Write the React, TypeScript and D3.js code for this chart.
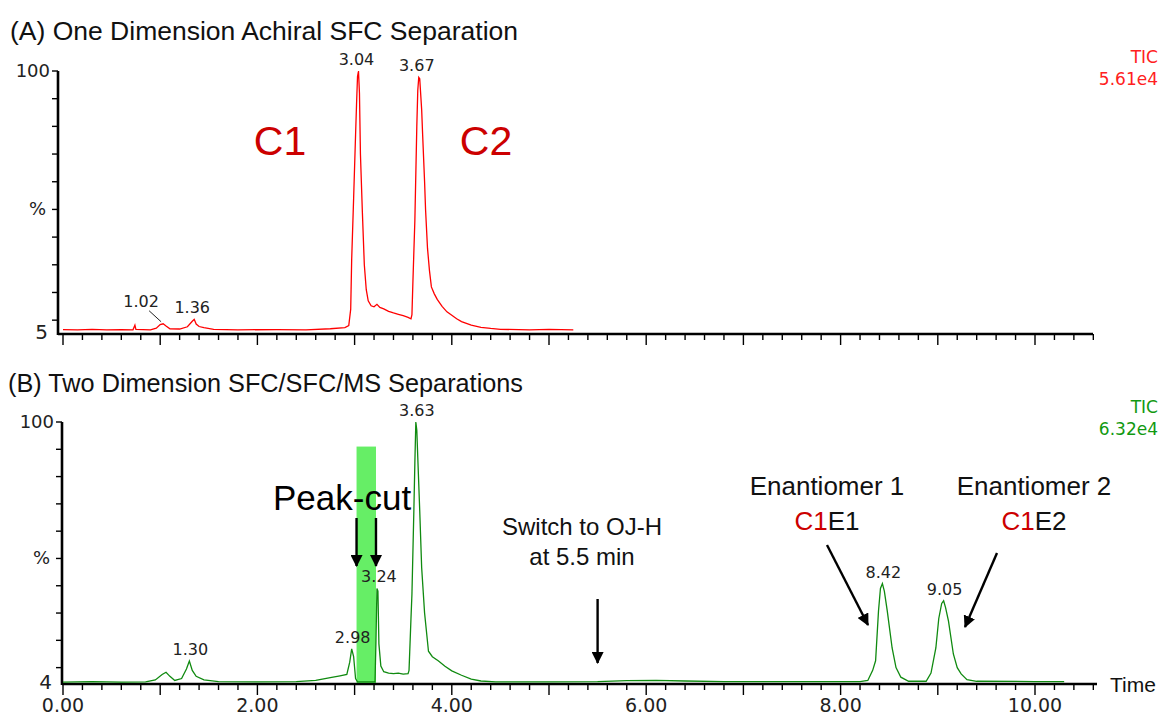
import React from "react";
import * as d3 from "d3";

// retention time (min), relative intensity (%)
const traceA: [number, number][] = [
  [0.0, 6.6], [0.15, 6.5], [0.3, 6.7], [0.45, 6.5], [0.6, 6.6], [0.72, 6.5], [0.74, 8.2], [0.75, 6.7],
  [0.9, 6.5], [0.96, 7.1], [1.0, 8.4], [1.03, 8.7], [1.06, 7.9], [1.1, 6.9], [1.2, 6.8], [1.28, 7.6],
  [1.33, 9.6], [1.35, 10.3], [1.37, 8.6], [1.4, 7.7], [1.45, 7.3], [1.55, 6.7], [1.8, 6.5], [2.2, 6.6],
  [2.5, 6.5], [2.75, 6.9], [2.9, 7.3], [2.94, 8.0], [2.96, 14], [2.97, 32], [2.99, 54], [3.01, 77],
  [3.02, 88], [3.03, 98], [3.04, 100], [3.05, 92], [3.06, 70], [3.08, 49], [3.1, 30], [3.12, 21],
  [3.14, 17], [3.17, 15.2], [3.2, 14.8], [3.23, 15.7], [3.26, 14.6], [3.3, 14.1], [3.35, 13.2],
  [3.4, 12.6], [3.45, 12.1], [3.5, 11.6], [3.55, 11.0], [3.58, 10.5], [3.59, 12], [3.6, 24], [3.62, 46],
  [3.64, 80], [3.65, 93], [3.66, 97.7], [3.67, 97.2], [3.69, 86], [3.7, 77], [3.72, 60], [3.73, 50],
  [3.75, 36], [3.77, 28], [3.79, 22], [3.82, 19.5], [3.85, 17.5], [3.9, 15], [3.95, 13], [4.0, 11.8],
  [4.05, 10.5], [4.1, 9.5], [4.2, 8.2], [4.3, 7.4], [4.4, 7.0], [4.5, 6.7], [4.8, 6.5], [5.0, 6.7],
  [5.25, 6.5],
];

const traceB: [number, number][] = [
  [0.0, 4.7], [0.3, 4.9], [0.6, 4.7], [0.85, 4.8], [0.95, 5.5], [1.02, 7.5], [1.06, 8.3], [1.1, 6.8],
  [1.15, 5.3], [1.22, 6.0], [1.27, 9.5], [1.3, 12.4], [1.33, 9.0], [1.37, 6.8], [1.45, 5.5], [1.6, 4.9],
  [2.0, 4.8], [2.4, 4.9], [2.6, 5.3], [2.75, 6.3], [2.85, 7.0], [2.92, 7.5], [2.95, 12], [2.97, 16.9],
  [2.99, 14], [3.01, 6], [3.03, 4.8], [3.21, 4.8], [3.22, 20], [3.23, 39], [3.24, 38], [3.25, 18.7],
  [3.27, 10.6], [3.3, 8.5], [3.35, 8.0], [3.4, 7.8], [3.45, 8.0], [3.5, 7.6], [3.55, 7.8], [3.56, 9],
  [3.58, 28], [3.59, 37], [3.61, 68], [3.62, 85], [3.63, 100], [3.64, 97], [3.65, 87], [3.67, 67.6],
  [3.69, 46.6], [3.72, 30], [3.76, 16], [3.8, 14], [3.86, 12.5], [3.93, 10.5], [4.0, 8.8], [4.1, 7.2],
  [4.2, 5.8], [4.3, 5.1], [4.45, 4.8], [5.0, 4.8], [5.5, 4.9], [5.8, 5.2], [6.1, 5.3], [6.4, 5.1],
  [6.8, 4.9], [7.5, 4.9], [8.2, 4.9], [8.28, 5.3], [8.33, 9], [8.36, 12.5], [8.39, 30.8], [8.41, 39],
  [8.43, 40.8], [8.45, 38], [8.48, 30.8], [8.53, 17.2], [8.57, 10], [8.62, 6.5], [8.7, 5.0], [8.88, 5.0],
  [8.93, 8], [8.98, 17.2], [9.01, 28], [9.04, 33.5], [9.06, 34.5], [9.08, 32], [9.11, 27], [9.16, 15],
  [9.2, 10], [9.24, 7.7], [9.3, 5.6], [9.4, 5.0], [10.0, 4.9], [10.3, 4.9],
];

// peak labels: text, time, intensity
const peaksA: [string, number, number][] = [
  ["1.36", 1.35, 10.3], ["3.04", 3.04, 100], ["3.67", 3.66, 97.7],
];
const peaksB: [string, number, number][] = [
  ["1.30", 1.3, 12.4], ["2.98", 2.97, 16.9], ["3.24", 3.24, 39], ["3.63", 3.63, 100],
  ["8.42", 8.43, 40.8], ["9.05", 9.06, 34.5],
];

const timeTicks = d3.range(0, 10.61, 0.2);
const timeLabels = [0, 2, 4, 6, 8, 10];
const pctTicks = d3.range(10, 101, 10);
const cutWindow = [3.02, 3.22];

const x = d3.scaleLinear().domain([0, 10.65]).range([63, 63 + 97.2 * 10.65]);
const yA = d3.scaleLinear().domain([5, 100]).range([334, 71]);
const yB = d3.scaleLinear().domain([4, 100]).range([684, 422]);

const tickFont = "'DejaVu Sans', sans-serif";
const textFont = "'Liberation Sans', Arial, sans-serif";

function Axes({ y, axisX, end, min }: { y: d3.ScaleLinear<number, number>; axisX: number; end: number; min: number }) {
  const y0 = y(min);
  return (
    <g>
      <line x1={axisX} x2={axisX} y1={y(100)} y2={y0 + 1} stroke="#000" strokeWidth={2.6} />
      <line x1={axisX} x2={end} y1={y0} y2={y0} stroke="#000" strokeWidth={2.6} />
      {pctTicks.map((p) => (
        <line key={p} x1={axisX - 6} x2={axisX} y1={y(p)} y2={y(p)} stroke="#000" strokeWidth={1.4} />
      ))}
      {timeTicks.map((t, i) => {
        const major = i % 5 === 0;
        return (
          <line key={i} x1={x(t)} x2={x(t)} y1={y0} y2={y0 + (major ? 11 : 6)} stroke="#000" strokeWidth={1.4} />
        );
      })}
      <text x={axisX - 8} y={y(100)} dy="0.36em" textAnchor="end" fontFamily={tickFont} fontSize={18} fill="#222">100</text>
      <text x={axisX - 12} y={y(50)} dy="0.3em" textAnchor="end" fontFamily={tickFont} fontSize={18} fill="#222">%</text>
      <text x={axisX - 10} y={y0 - 2} dy="0.36em" textAnchor="end" fontFamily={tickFont} fontSize={20} fill="#222">{min}</text>
    </g>
  );
}

function Arrow({ x1, y1, x2, y2 }: { x1: number; y1: number; x2: number; y2: number }) {
  return <line x1={x1} y1={y1} x2={x2} y2={y2} stroke="#000" strokeWidth={2.4} markerEnd="url(#head)" />;
}

export default function App() {
  const lineA = d3.line<[number, number]>().x((d) => x(d[0])).y((d) => yA(d[1]));
  const lineB = d3.line<[number, number]>().x((d) => x(d[0])).y((d) => yB(d[1]));

  return (
    <svg width={1158} height={715} style={{ display: "block", position: "absolute", left: 0, top: 0 }}>
      <defs>
        <marker id="head" viewBox="0 0 12 12" refX={11} refY={6} markerWidth={12} markerHeight={12}
          markerUnits="userSpaceOnUse" orient="auto">
          <path d="M0,0 L12,6 L0,12 z" fill="#000" />
        </marker>
      </defs>
      <rect width={1158} height={715} fill="#fff" />

      {/* Panel A */}
      <text x={10} y={40} fontFamily={textFont} fontSize={26.5} fill="#111" textLength={508} lengthAdjust="spacingAndGlyphs">(A) One Dimension Achiral SFC Separation</text>
      <Axes y={yA} axisX={58} end={1093} min={5} />
      <path d={lineA(traceA) ?? ""} fill="none" stroke="#ff0000" strokeWidth={1.3} />
      {peaksA.map(([lab, t, v]) => (
        <text key={lab} x={x(t) - 2} y={yA(v) - 6} textAnchor="middle" fontFamily={tickFont} fontSize={16} fill="#222">{lab}</text>
      ))}
      <text x={x(1.03) - 22} y={yA(8.7) - 17} textAnchor="middle" fontFamily={tickFont} fontSize={16} fill="#222">1.02</text>
      <line x1={x(1.03) - 14} y1={yA(8.7) - 13} x2={x(1.03) - 2} y2={yA(8.7) - 2} stroke="#222" strokeWidth={1} />
      <text x={280} y={155} textAnchor="middle" fontFamily={textFont} fontSize={41} fill="#cc0000">C1</text>
      <text x={486} y={155} textAnchor="middle" fontFamily={textFont} fontSize={41} fill="#cc0000">C2</text>
      <text x={1158} y={63} textAnchor="end" fontFamily={tickFont} fontSize={17} fill="#ff2020">TIC</text>
      <text x={1158} y={85} textAnchor="end" fontFamily={tickFont} fontSize={17} fill="#ff2020">5.61e4</text>

      {/* Panel B */}
      <text x={8} y={392} fontFamily={textFont} fontSize={26} fill="#111" textLength={515} lengthAdjust="spacingAndGlyphs">(B) Two Dimension SFC/SFC/MS Separations</text>
      <rect x={x(cutWindow[0])} y={yB(91)} width={x(cutWindow[1]) - x(cutWindow[0])} height={yB(4) - yB(91)} fill="#66ee66" />
      <Axes y={yB} axisX={62} end={1097} min={4} />
      <path d={lineB(traceB) ?? ""} fill="none" stroke="#108a10" strokeWidth={1.3} />
      {peaksB.map(([lab, t, v]) => (
        <text key={lab} x={x(t) + 1} y={yB(v) - 6} textAnchor="middle" fontFamily={tickFont} fontSize={16} fill="#222">{lab}</text>
      ))}
      {timeLabels.map((t) => (
        <text key={t} x={x(t)} y={712} textAnchor="middle" fontFamily={tickFont} fontSize={19} fill="#222">{d3.format(".2f")(t)}</text>
      ))}
      <text x={1110} y={692} fontFamily={textFont} fontSize={21} fill="#111">Time</text>
      <text x={1158} y={413} textAnchor="end" fontFamily={tickFont} fontSize={17} fill="#119911">TIC</text>
      <text x={1158} y={435} textAnchor="end" fontFamily={tickFont} fontSize={17} fill="#119911">6.32e4</text>

      <text x={273} y={510} fontFamily={textFont} fontSize={35} fill="#000">Peak-cut</text>
      <Arrow x1={x(cutWindow[0])} y1={518} x2={x(cutWindow[0])} y2={566} />
      <Arrow x1={x(cutWindow[1])} y1={518} x2={x(cutWindow[1])} y2={566} />

      <text x={582} y={535} textAnchor="middle" fontFamily={textFont} fontSize={24} fill="#111">Switch to OJ-H</text>
      <text x={582} y={565} textAnchor="middle" fontFamily={textFont} fontSize={24} fill="#111">at 5.5 min</text>
      <Arrow x1={x(5.5)} y1={599} x2={x(5.5)} y2={663} />

      <text x={827} y={495} textAnchor="middle" fontFamily={textFont} fontSize={26} fill="#111">Enantiomer 1</text>
      <text x={827} y={530} textAnchor="middle" fontFamily={textFont} fontSize={26} fill="#111">
        <tspan fill="#cc0000">C1</tspan>E1
      </text>
      <text x={1034} y={495} textAnchor="middle" fontFamily={textFont} fontSize={26} fill="#111">Enantiomer 2</text>
      <text x={1034} y={530} textAnchor="middle" fontFamily={textFont} fontSize={26} fill="#111">
        <tspan fill="#cc0000">C1</tspan>E2
      </text>
      <Arrow x1={827} y1={545} x2={868} y2={625} />
      <Arrow x1={997} y1={553} x2={965} y2={627} />
    </svg>
  );
}
